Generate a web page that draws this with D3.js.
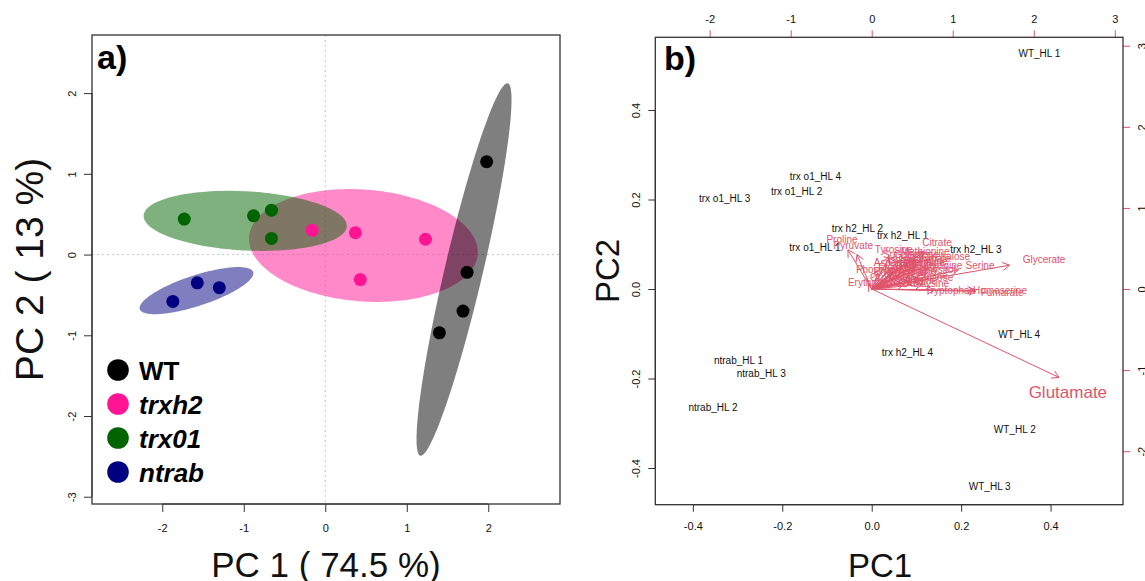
<!DOCTYPE html>
<html>
<head>
<meta charset="utf-8">
<script src="https://cdn.jsdelivr.net/npm/d3@7"></script>
<style>
  body { margin: 0; background: #ffffff; }
  svg { display: block; }
  text { font-family: "Liberation Sans", Arial, Helvetica, sans-serif; }
</style>
</head>
<body>
<svg id="chart" width="1145" height="581"></svg>
<script>
// ---------- Panel a: PCA scores per genotype ----------
const groupNames  = ["WT", "trxh2", "trx01", "ntrab"];
const groupColors = ["#000000", "#FF1493", "#006400", "#000080"];
const groupItalic = [false, true, true, true];
// drawing order of the 95% ellipses (back to front)
const ellipseOrder = ["trxh2", "trx01", "ntrab", "WT"];

const scoreGroup = ["WT", "WT", "WT", "WT",
                    "trxh2", "trxh2", "trxh2", "trxh2",
                    "trx01", "trx01", "trx01", "trx01",
                    "ntrab", "ntrab", "ntrab"];
const scorePC1 = [1.98, 1.74, 1.69, 1.40,
                  -0.16, 0.37, 1.23, 0.43,
                  -1.73, -0.88, -0.66, -0.66,
                  -1.57, -1.30, -1.87];
const scorePC2 = [1.15, -0.22, -0.70, -0.97,
                  0.30, 0.27, 0.19, -0.31,
                  0.44, 0.48, 0.55, 0.20,
                  -0.35, -0.41, -0.58];

const ticksA_x = [-2, -1, 0, 1, 2];
const ticksA_y = [-3, -2, -1, 0, 1, 2];

// ---------- Panel b: biplot ----------
const sampleNames = ["WT_HL 1", "trx o1_HL 4", "trx o1_HL 2", "trx o1_HL 3",
                     "trx h2_HL 2", "trx h2_HL 1", "trx h2_HL 3", "trx o1_HL 1",
                     "WT_HL 4", "trx h2_HL 4", "ntrab_HL 1", "ntrab_HL 3",
                     "ntrab_HL 2", "WT_HL 2", "WT_HL 3"];
const samplePC1 = [0.375, -0.126, -0.168, -0.329,
                   -0.032, 0.069, 0.233, -0.127,
                   0.330, 0.080, -0.298, -0.247,
                   -0.355, 0.320, 0.264];
const samplePC2 = [0.527, 0.251, 0.219, 0.202,
                   0.136, 0.120, 0.089, 0.093,
                   -0.101, -0.141, -0.159, -0.188,
                   -0.264, -0.315, -0.442];

const varNames = ["Proline", "Pyruvate", "Tyrosine", "Citrate", "Succinate",
                  "Trehalose", "Asparagine", "Serine", "Glycerate", "Phosphate",
                  "Erythritol", "Tryptophan", "Homoserine", "Fumarate",
                  "Alanine", "Glycine", "Malate", "Threonine", "Valine",
                  "Isoleucine", "Leucine", "Aspartate", "GABA", "Sucrose",
                  "Glucose", "Fructose", "Methionine", "Phenylalanine", "Lysine",
                  "Glutamine", "Inositol", "Ornithine", "Shikimate", "Galactose",
                  "Glutamate"];
const varPC1 = [-0.367, -0.227, 0.272, 0.806, 0.411,
                0.942, 0.806, 1.337, 2.127, 0.10,
                -0.05, 0.967, 1.584, 1.609,
                0.60, 0.41, 0.53, 0.66, 0.35,
                0.47, 0.72, 0.29, 0.50, 0.60,
                0.78, 0.32, 0.66, 0.41, 0.78,
                0.62, 0.84, 0.23, 0.70, 0.55,
                2.890];
const varPC2 = [0.605, 0.531, 0.490, 0.577, 0.428,
                0.399, 0.288, 0.296, 0.367, 0.243,
                0.080, -0.021, -0.021, -0.037,
                0.11, 0.33, 0.24, 0.34, 0.17,
                0.37, 0.17, 0.33, 0.07, 0.26,
                0.14, 0.26, 0.46, 0.21, 0.07,
                0.33, 0.24, 0.14, 0.38, 0.42,
                -1.363];

const ticksB_main = [-0.4, -0.2, 0.0, 0.2, 0.4];
const ticksB_load = [-2, -1, 0, 1, 2, 3];

// ---------- layout ----------
const svg = d3.select("#chart");
const axisCol = "#333333";
const loadCol = "#DF536B";

// plain hyphen-minus number formats
const fmtInt = d => String(d);
const fmt1 = d => d.toFixed(1);

// Panel a scales
const xA = d3.scaleLinear().domain([-2.862, 2.880]).range([92, 560]);
const yA = d3.scaleLinear().domain([-3.09, 2.72]).range([504, 35]);

// Panel b scales (scores, and loadings on the secondary axes)
const xB = d3.scaleLinear().domain([-0.484, 0.562]).range([655.3, 1123]);
const yB = d3.scaleLinear().domain([-0.482, 0.5625]).range([504.7, 37.3]);
const loadRatio = 0.1812;
const xL = d3.scaleLinear().domain([-0.484 / loadRatio, 0.562 / loadRatio]).range([655.3, 1123]);
const yL = d3.scaleLinear().domain([-0.482 / loadRatio, 0.5625 / loadRatio]).range([504.7, 37.3]);

// R-like axis helper: tick marks + label, axis line spans first..last tick
function rAxis(g, scale, orient, ticks, fmt, opts) {
  const size = opts.size, off = opts.offset;
  let axis;
  if (orient === "bottom") axis = d3.axisBottom(scale);
  else if (orient === "top") axis = d3.axisTop(scale);
  else if (orient === "left") axis = d3.axisLeft(scale);
  else axis = d3.axisRight(scale);
  axis.tickValues(ticks).tickFormat(fmt).tickSizeOuter(0).tickSizeInner(size);
  g.call(axis);
  g.select(".domain").remove();
  g.selectAll(".tick line").attr("stroke", opts.tickColor).attr("stroke-width", 1);
  if (opts.line) {
    const ext = d3.extent(ticks.map(scale));
    if (orient === "bottom" || orient === "top") {
      g.append("line").attr("x1", ext[0]).attr("x2", ext[1]).attr("y1", 0).attr("y2", 0)
        .attr("stroke", opts.tickColor).attr("stroke-width", 1);
    } else {
      g.append("line").attr("y1", ext[0]).attr("y2", ext[1]).attr("x1", 0).attr("x2", 0)
        .attr("stroke", opts.tickColor).attr("stroke-width", 1);
    }
  }
  const txt = g.selectAll(".tick text")
    .attr("fill", "#111").attr("font-size", 11)
    .attr("font-family", "'Liberation Sans', Arial, sans-serif");
  if (orient === "bottom") txt.attr("y", off).attr("dy", "0.35em");
  if (orient === "top") txt.attr("y", -off).attr("dy", "0.35em");
  if (orient === "left" || orient === "right") {
    const sgn = orient === "left" ? -1 : 1;
    txt.attr("x", 0).attr("y", sgn * off).attr("dy", "0.35em")
      .attr("text-anchor", "middle").attr("transform", "rotate(-90)");
  }
}

// ================= Panel a =================
const gA = svg.append("g");

// zero reference lines
gA.append("line").attr("x1", xA(0)).attr("x2", xA(0)).attr("y1", yA.range()[1]).attr("y2", yA.range()[0])
  .attr("stroke", "#c8c8c8").attr("stroke-dasharray", "2,3");
gA.append("line").attr("y1", yA(0)).attr("y2", yA(0)).attr("x1", xA.range()[0]).attr("x2", xA.range()[1])
  .attr("stroke", "#c8c8c8").attr("stroke-dasharray", "2,3");

// 95% normal-theory confidence ellipse from sample mean and covariance
const chi2_95 = 5.991;
function ellipsePoints(xs, ys) {
  const n = xs.length;
  const mx = d3.mean(xs), my = d3.mean(ys);
  let sxx = 0, syy = 0, sxy = 0;
  for (let i = 0; i < n; i++) {
    sxx += (xs[i] - mx) ** 2; syy += (ys[i] - my) ** 2; sxy += (xs[i] - mx) * (ys[i] - my);
  }
  sxx /= (n - 1); syy /= (n - 1); sxy /= (n - 1);
  const tr = sxx + syy, det = sxx * syy - sxy * sxy;
  const disc = Math.sqrt(Math.max(tr * tr / 4 - det, 0));
  const l1 = tr / 2 + disc, l2 = Math.max(tr / 2 - disc, 0);
  let vx = sxy, vy = l1 - sxx;
  if (Math.abs(vx) < 1e-12 && Math.abs(vy) < 1e-12) { vx = 1; vy = 0; }
  const norm = Math.hypot(vx, vy); vx /= norm; vy /= norm;
  const a = Math.sqrt(l1 * chi2_95), b = Math.sqrt(l2 * chi2_95);
  const pts = [];
  for (let k = 0; k <= 180; k++) {
    const t = 2 * Math.PI * k / 180;
    const u = a * Math.cos(t), v = b * Math.sin(t);
    pts.push([mx + u * vx - v * vy, my + u * vy + v * vx]);
  }
  return pts;
}

const line = d3.line().x(d => xA(d[0])).y(d => yA(d[1])).curve(d3.curveLinearClosed);
ellipseOrder.forEach(gname => {
  const idx = d3.range(scoreGroup.length).filter(i => scoreGroup[i] === gname);
  const pts = ellipsePoints(idx.map(i => scorePC1[i]), idx.map(i => scorePC2[i]));
  gA.append("path").attr("d", line(pts))
    .attr("fill", groupColors[groupNames.indexOf(gname)]).attr("fill-opacity", 0.5);
});

// score points
gA.selectAll("circle.score").data(d3.range(scorePC1.length)).join("circle")
  .attr("class", "score")
  .attr("cx", i => xA(scorePC1[i])).attr("cy", i => yA(scorePC2[i])).attr("r", 6.5)
  .attr("fill", i => groupColors[groupNames.indexOf(scoreGroup[i])]);

rAxis(gA.append("g").attr("transform", `translate(0,${yA.range()[0]})`), xA, "bottom", ticksA_x,
      fmtInt, {size: 8, offset: 24, tickColor: axisCol, line: true});
rAxis(gA.append("g").attr("transform", `translate(${xA.range()[0]},0)`), yA, "left", ticksA_y,
      fmtInt, {size: 8, offset: 20, tickColor: axisCol, line: true});

// frame
gA.append("rect").attr("x", xA.range()[0]).attr("y", yA.range()[1])
  .attr("width", xA.range()[1] - xA.range()[0]).attr("height", yA.range()[0] - yA.range()[1])
  .attr("fill", "none").attr("stroke", axisCol).attr("stroke-width", 1.3);

// legend
const legendY = d3.scalePoint().domain(groupNames).range([370, 472]);
const lg = gA.append("g");
groupNames.forEach((gname, i) => {
  lg.append("circle").attr("cx", 118).attr("cy", legendY(gname)).attr("r", 10.8).attr("fill", groupColors[i]);
  lg.append("text").attr("x", 139).attr("y", legendY(gname) + 9.5)
    .attr("font-size", 26).attr("font-weight", "bold")
    .attr("font-style", groupItalic[i] ? "italic" : "normal")
    .attr("fill", "#000").text(gname);
});

gA.append("text").attr("x", 97).attr("y", 69).attr("font-size", 34).attr("font-weight", "bold").text("a)");
gA.append("text").attr("x", (xA.range()[0] + xA.range()[1]) / 2).attr("y", 577)
  .attr("text-anchor", "middle").attr("font-size", 35).attr("fill", "#111").text("PC 1 ( 74.5 %)");
gA.append("text").attr("transform", `translate(43,${(yA.range()[0] + yA.range()[1]) / 2}) rotate(-90)`)
  .attr("text-anchor", "middle").attr("font-size", 39).attr("fill", "#111").text("PC 2 ( 13 %)");

// ================= Panel b =================
const gB = svg.append("g");

// sample labels
gB.selectAll("text.sample").data(d3.range(sampleNames.length)).join("text")
  .attr("class", "sample")
  .attr("x", i => xB(samplePC1[i])).attr("y", i => yB(samplePC2[i])).attr("dy", "0.35em")
  .attr("text-anchor", "middle").attr("font-size", 10).attr("fill", "#111")
  .text(i => sampleNames[i]);

// loading arrows (to 0.8 x loading) and labels (at loading)
const labelNudge = { Glutamate: [-38, -7.5] };
const labelSize = { Glutamate: 17 };
const ox = xL(0), oy = yL(0);
const arrowG = gB.append("g").attr("stroke", loadCol).attr("stroke-width", 1).attr("fill", "none");
varNames.forEach((name, i) => {
  const tx = xL(0.8 * varPC1[i]), ty = yL(0.8 * varPC2[i]);
  const ang = Math.atan2(ty - oy, tx - ox);
  const hl = 8, ha = Math.PI / 6;
  const p = d3.path();
  p.moveTo(ox, oy); p.lineTo(tx, ty);
  p.moveTo(tx - hl * Math.cos(ang - ha), ty - hl * Math.sin(ang - ha));
  p.lineTo(tx, ty);
  p.lineTo(tx - hl * Math.cos(ang + ha), ty - hl * Math.sin(ang + ha));
  arrowG.append("path").attr("d", p.toString());
});
varNames.forEach((name, i) => {
  const nd = labelNudge[name] || [0, 0];
  gB.append("text")
    .attr("x", xL(varPC1[i]) + nd[0]).attr("y", yL(varPC2[i]) + nd[1]).attr("dy", "0.35em")
    .attr("text-anchor", "middle").attr("font-size", labelSize[name] || 10)
    .attr("fill", loadCol).text(name);
});

rAxis(gB.append("g").attr("transform", `translate(0,${yB.range()[0]})`), xB, "bottom", ticksB_main,
      fmt1, {size: 7, offset: 21.5, tickColor: axisCol, line: true});
rAxis(gB.append("g").attr("transform", `translate(${xB.range()[0]},0)`), yB, "left", ticksB_main,
      fmt1, {size: 7, offset: 19.5, tickColor: axisCol, line: true});
rAxis(gB.append("g").attr("transform", `translate(0,${yL.range()[1]})`), xL, "top", ticksB_load,
      fmtInt, {size: 7, offset: 18, tickColor: loadCol, line: false});
rAxis(gB.append("g").attr("transform", `translate(${xL.range()[1]},0)`), yL, "right", ticksB_load,
      fmtInt, {size: 7, offset: 19.5, tickColor: loadCol, line: false});

// frame
gB.append("rect").attr("x", xB.range()[0]).attr("y", yB.range()[1])
  .attr("width", xB.range()[1] - xB.range()[0]).attr("height", yB.range()[0] - yB.range()[1])
  .attr("fill", "none").attr("stroke", axisCol).attr("stroke-width", 1.3);

gB.append("text").attr("x", 664).attr("y", 70).attr("font-size", 34).attr("font-weight", "bold").text("b)");
gB.append("text").attr("x", 880).attr("y", 577)
  .attr("text-anchor", "middle").attr("font-size", 33).attr("fill", "#111").text("PC1");
gB.append("text").attr("transform", `translate(619,${(yB.range()[0] + yB.range()[1]) / 2}) rotate(-90)`)
  .attr("text-anchor", "middle").attr("font-size", 33).attr("fill", "#111").text("PC2");
</script>
</body>
</html>
